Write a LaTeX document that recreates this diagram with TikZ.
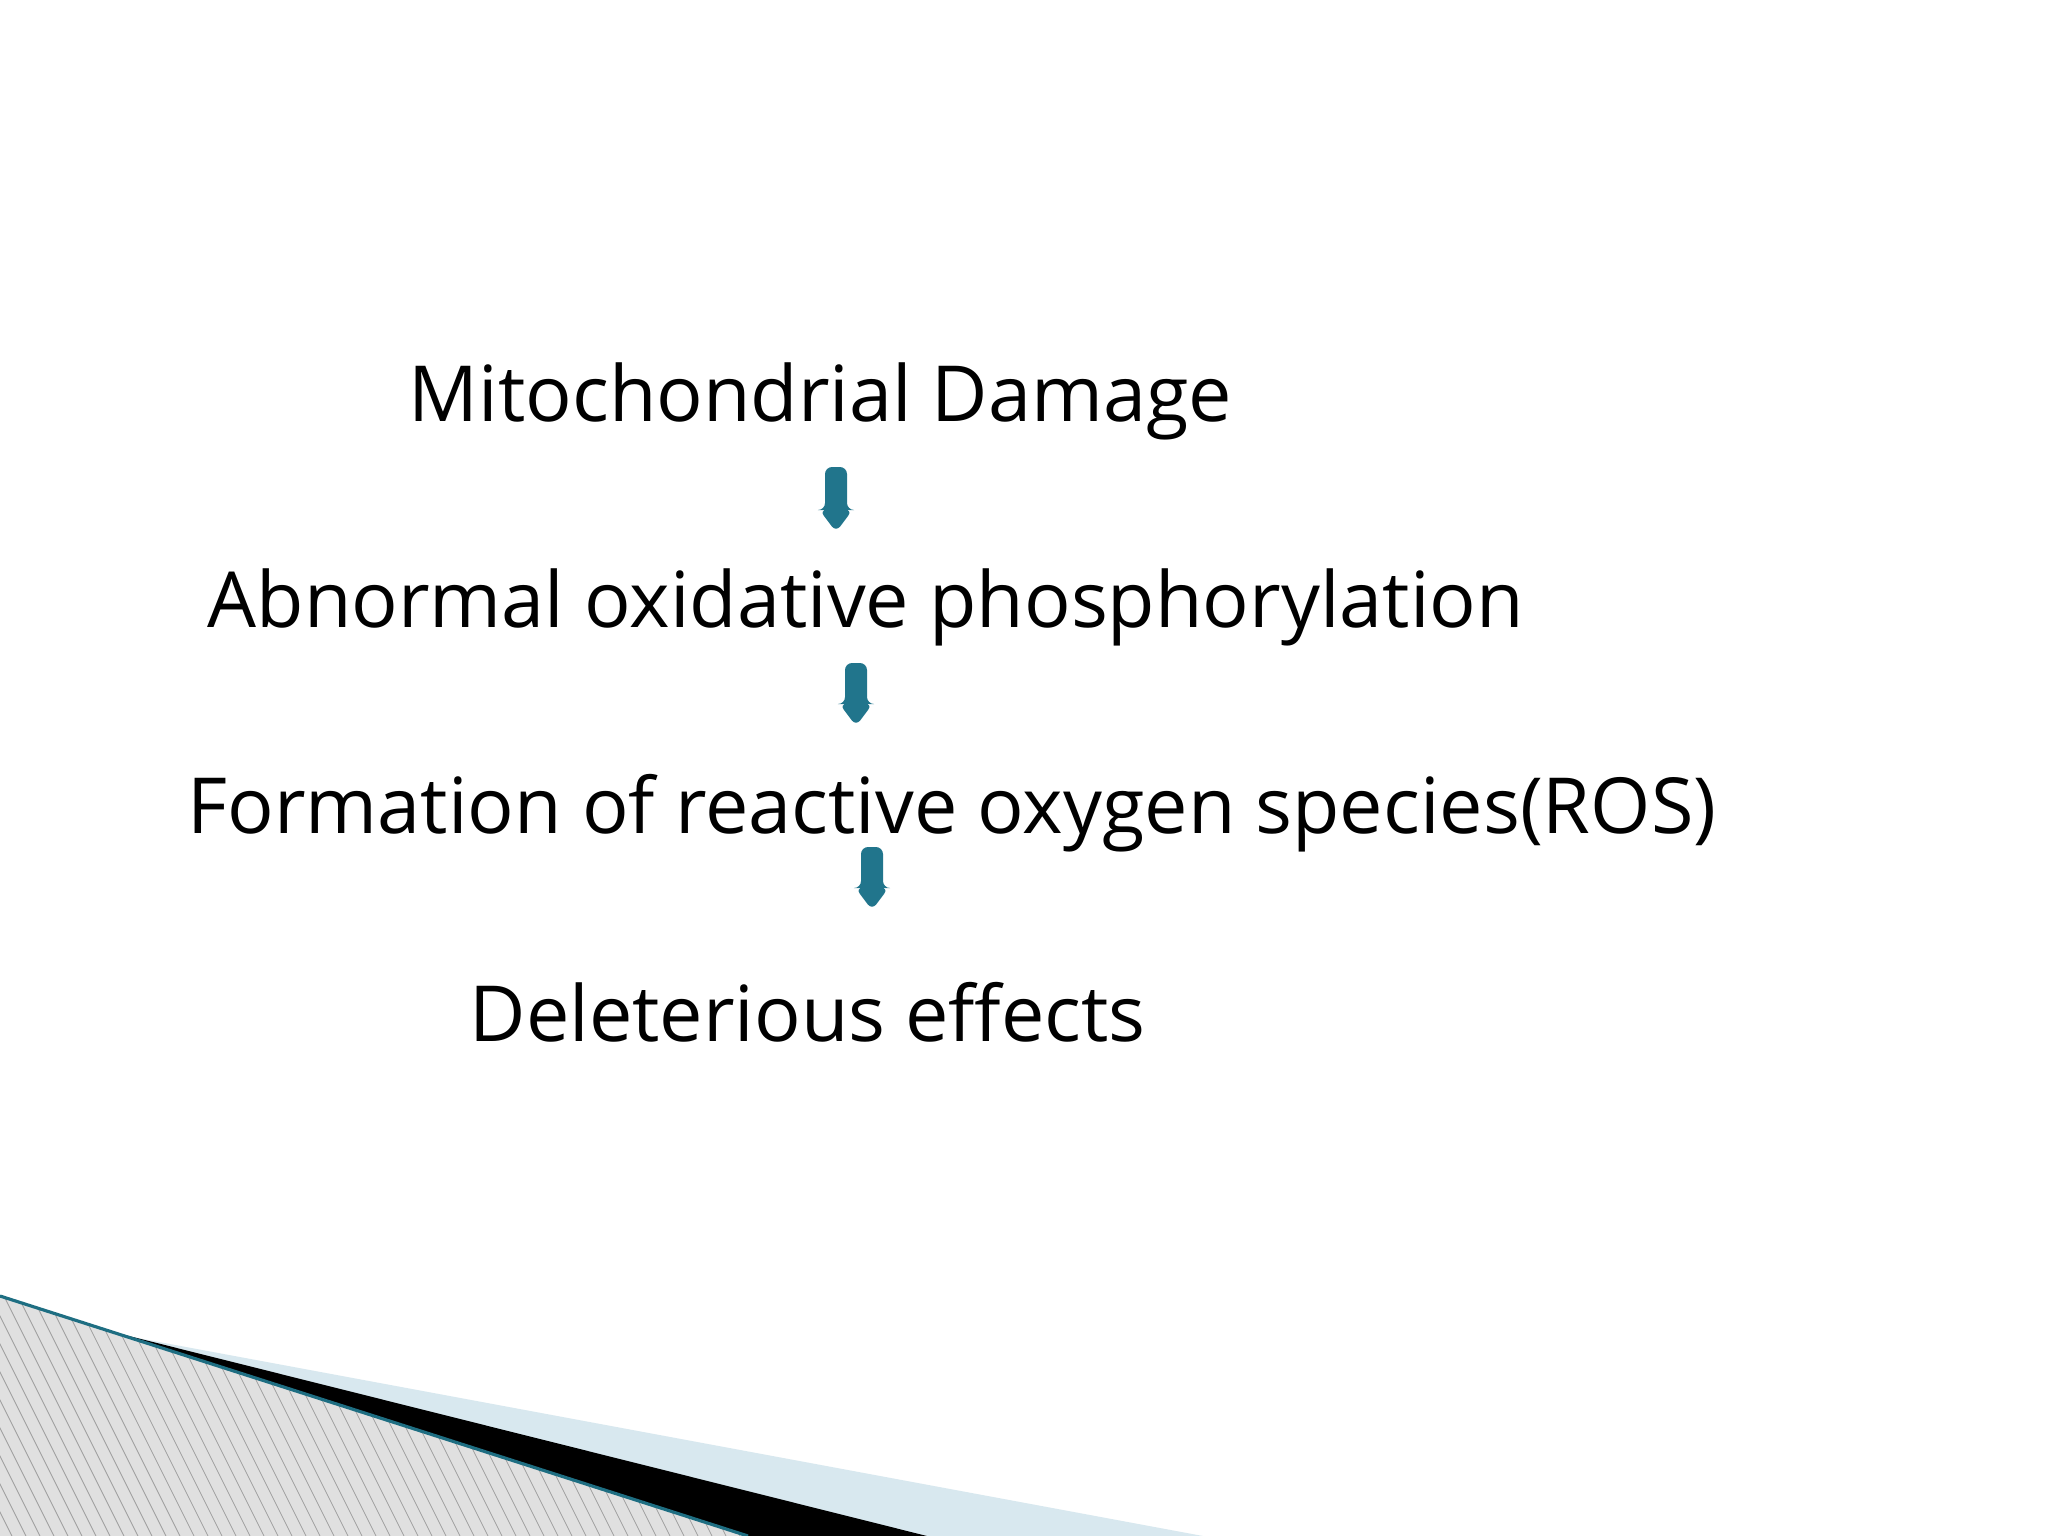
\documentclass[tikz,border=0pt]{standalone}
\usepackage{fontspec}
\setmainfont{Open Sans}
\definecolor{arrowteal}{RGB}{33,117,140}
\definecolor{edgeteal}{RGB}{30,110,130}
\definecolor{palebluefill}{RGB}{216,232,239}
\definecolor{hatchgray}{RGB}{224,224,224}
\definecolor{hatchline}{RGB}{160,160,160}
\tikzset{
  steptext/.style={anchor=base west, inner sep=0pt, font=\fontsize{22}{26}\selectfont, text=black},
  blockarrow/.style={fill=arrowteal, draw=none, rounded corners=2pt}
}
\newcommand{\downblock}[3]{% center x, top y, tip y (px)
  \fill[blockarrow] ({#1-11},#2) -- ({#1+11},#2) -- ({#1+11},{#3-22}) -- ({#1+16.5},{#3-22}) -- (#1,#3) -- ({#1-16.5},{#3-22}) -- ({#1-11},{#3-22}) -- cycle;
}
\begin{document}
\begin{tikzpicture}[x=0.01cm,y=-0.01cm]
\useasboundingbox (0,0) rectangle (2048,1536);
\fill[white] (0,0) rectangle (2048,1536);

% bottom-left decoration
\fill[palebluefill] (100,1331) -- (1203,1536) -- (100,1536) -- cycle;
\fill[black] (105,1330) -- (927,1536) -- (748,1536) -- cycle;
\fill[hatchgray] (0,1296) -- (748,1536) -- (0,1536) -- cycle;
\begin{scope}
  \clip (0,1296) -- (748,1536) -- (0,1536) -- cycle;
  \foreach \i in {-200,-186,...,800} {
    \draw[hatchline, line width=0.25pt] (\i,1280) -- ({\i+0.5*260},1540);
  }
\end{scope}
\draw[edgeteal, line width=0.9pt] (0,1296) -- (748,1536);

% texts
\node[steptext] (mito) at (408,421) {Mitochondrial Damage};
\node[steptext] (oxphos) at (207,627) {Abnormal oxidative phosphorylation};
\node[steptext] (ros) at (187,833) {Formation of reactive oxygen species(ROS)};
\node[steptext] (delet) at (469,1041) {Deleterious effects};

% arrows
\downblock{836}{467}{532}
\downblock{856}{663}{726}
\downblock{872}{847}{910}
\end{tikzpicture}
\end{document}
